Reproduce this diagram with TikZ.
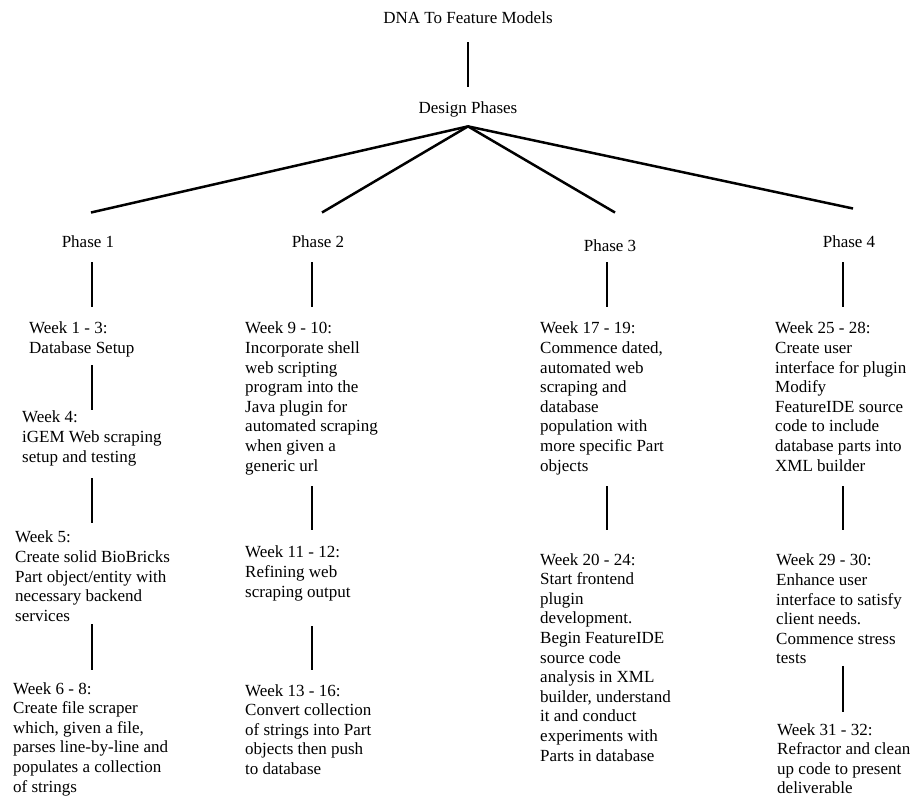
\documentclass[tikz,border=0pt]{standalone}
\usepackage{fontspec}
\setmainfont{Liberation Serif}
\usepackage{tikz}
\usetikzlibrary{calc}
\tikzstyle{stem}=[line width=2.5pt]
\tikzstyle{plain}=[inner sep=0pt, font=\fontsize{17}{19.6}\selectfont]
\tikzstyle{week}=[plain, anchor=north west, align=left]
\newcommand{\weeklink}[5]{
	\draw[stem] ([yshift=-#4]#1.south -| #3) -- ([yshift=#5]#2.north -| #3);
}

\begin{document}
\begin{tikzpicture}[x=1pt,y=-1pt]
	\useasboundingbox (0,0) rectangle (911,797);
	\node[plain, anchor=base] (title) at (468,24) {DNA To Feature Models};
	\node[plain, anchor=base] (design) at (468,113.5) {Design Phases};
	\draw[stem, shorten <=18pt, shorten >=15pt] (title) -- (design);
	\node[plain, anchor=base] (p1) at (88,247.5) {Phase 1};
	\node[plain, anchor=base] (p2) at (318,247.5) {Phase 2};
	\node[plain, anchor=base] (p3) at (610,251.5) {Phase 3};
	\node[plain, anchor=base] (p4) at (849,247.5) {Phase 4};
	\coordinate (apex) at ([yshift=-9pt]design.south);
	\draw[stem] (apex) -- ([xshift=3pt,yshift=23pt]p1.north);
	\draw[stem] (apex) -- ([xshift=4pt,yshift=23pt]p2.north);
	\draw[stem] (apex) -- ([xshift=5pt,yshift=27pt]p3.north);
	\draw[stem] (apex) -- ([xshift=4pt,yshift=27pt]p4.north);
	\coordinate (c1) at (92,0);
	\coordinate (c2) at (312,0);
	\coordinate (c3) at (607,0);
	\coordinate (c4) at (843,0);
	% phase 1
	\node[week] (w1) at (29,322) {Week 1 - 3:\\Database Setup};
	\node[week] (w4) at (22,411) {Week 4:\\iGEM Web scraping\\setup and testing};
	\node[week] (w5) at (15,531) {Week 5:\\Create solid BioBricks\\Part object/entity with\\necessary backend\\services};
	\node[week] (w6) at (13,682) {Week 6 - 8:\\Create file scraper\\which, given a file,\\parses line-by-line and\\populates a collection\\of strings};
	\weeklink{p1}{w1}{c1}{14.5pt}{15pt}
	\weeklink{w1}{w4}{c1}{8pt}{1pt}
	\weeklink{w4}{w5}{c1}{12pt}{8pt}
	\weeklink{w5}{w6}{c1}{2.5pt}{12pt}
	% phase 2
	\node[week] (w9) at (245,322) {Week 9 - 10:\\Incorporate shell\\web scripting\\program into the\\Java plugin for\\automated scraping\\when given a\\generic url};
	\node[week] (w11) at (245,546) {Week 11 - 12:\\Refining web\\scraping output};
	\node[week] (w13) at (245,684) {Week 13 - 16:\\Convert collection\\of strings into Part\\objects then push\\to database};
	\weeklink{p2}{w9}{c2}{14.5pt}{15pt}
	\weeklink{w9}{w11}{c2}{11pt}{16pt}
	\weeklink{w11}{w13}{c2}{25pt}{14pt}
	% phase 3
	\node[week] (w17) at (540,322) {Week 17 - 19:\\Commence dated,\\automated web\\scraping and\\database\\population with\\more specific Part\\objects};
	\node[week] (w20) at (540,553) {Week 20 - 24:\\Start frontend\\plugin\\development.\\Begin FeatureIDE\\source code\\analysis in XML\\builder, understand\\it and conduct\\experiments with\\Parts in database};
	\weeklink{p3}{w17}{c3}{10.5pt}{15pt}
	\weeklink{w17}{w20}{c3}{11pt}{23pt}
	% phase 4
	\node[week] (w25) at (775,322) {Week 25 - 28:\\Create user\\interface for plugin\\Modify\\FeatureIDE source\\code to include\\database parts into\\XML builder};
	\node[week] (w29) at (776,554) {Week 29 - 30:\\Enhance user\\interface to satisfy\\client needs.\\Commence stress\\tests};
	\node[week] (w31) at (777,723) {Week 31 - 32:\\Refractor and clean\\up code to present\\deliverable};
	\weeklink{p4}{w25}{c4}{14.5pt}{15pt}
	\weeklink{w25}{w29}{c4}{14.5pt}{24pt}
	\weeklink{w29}{w31}{c4}{1.5pt}{11pt}
\end{tikzpicture}
\end{document}
